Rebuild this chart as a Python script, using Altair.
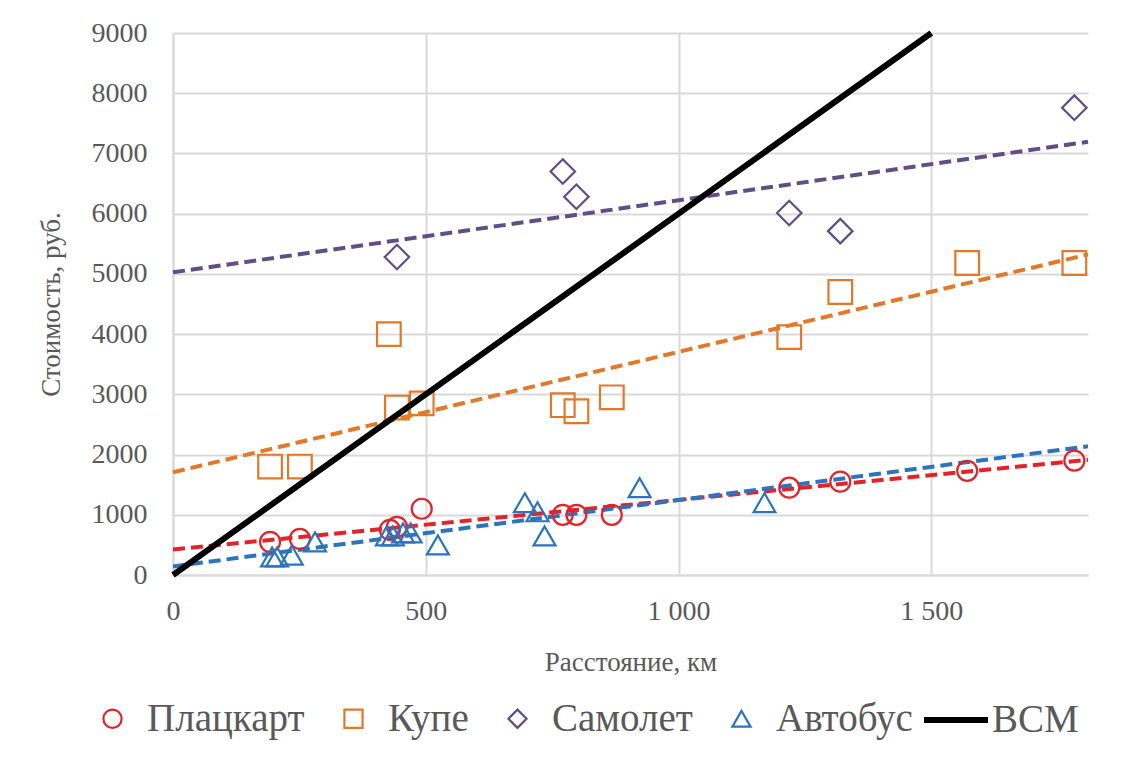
import altair as alt
import pandas as pd

# Distance (km) and fare (rub.) per transport type
plac_km = [192, 251, 429, 443, 492, 771, 798, 868, 1219, 1320, 1571, 1783]
plac_rub = [550, 600, 750, 800, 1100, 1000, 1000, 1000, 1450, 1550, 1730, 1900]

kupe_km = [192, 251, 427, 443, 492, 771, 798, 868, 1219, 1320, 1571, 1783]
kupe_rub = [1800, 1800, 4000, 2780, 2850, 2820, 2720, 2950, 3950, 4700, 5180, 5180]

avia_km = [443, 771, 798, 1219, 1320, 1783]
avia_rub = [5280, 6700, 6280, 6010, 5710, 7760]

bus_km = [196, 206, 235, 281, 423, 435, 455, 470, 524, 696, 721, 735, 923, 1170]
bus_rub = [300, 300, 330, 550, 650, 650, 700, 700, 500, 1200, 1050, 650, 1450, 1200]

# High-speed rail (ВСМ) fare line
vsm_km = [0, 1500]
vsm_rub = [0, 9000]

series_names = ["Плацкарт", "Купе", "Самолет", "Автобус"]
series_colors = ["#E3232A", "#E2782A", "#5E4F86", "#2C74BE"]
series_shapes = ["circle", "square", "diamond", "triangle-up"]
marker_sizes = [400, 560, 600, 480]

x_ticks = [0, 500, 1000, 1500]
y_ticks = list(range(0, 9001, 1000))

rows = []
for name, xs, ys in [("Плацкарт", plac_km, plac_rub), ("Купе", kupe_km, kupe_rub),
                     ("Самолет", avia_km, avia_rub), ("Автобус", bus_km, bus_rub)]:
    rows += [{"Тип": name, "x": a, "y": b} for a, b in zip(xs, ys)]
points = pd.DataFrame(rows)
vsm = pd.DataFrame({"Линия": "ВСМ", "x": vsm_km, "y": vsm_rub})

FONT = "Liberation Serif"
GREY = "#595959"

x_enc = alt.X("x:Q", scale=alt.Scale(domain=[0, 1810], nice=False, zero=False),
              axis=alt.Axis(values=x_ticks, title="Расстояние, км",
                            labelExpr="replace(format(datum.value, ','), ',', ' ')"))
y_enc = alt.Y("y:Q", scale=alt.Scale(domain=[0, 9000], nice=False),
              axis=alt.Axis(values=y_ticks, format="d", title="Стоимость, руб."))

color_scale = alt.Scale(domain=series_names, range=series_colors)
shape_scale = alt.Scale(domain=series_names, range=series_shapes)
series_legend = alt.Legend(title=None, orient="none", direction="horizontal",
                           legendX=-80, legendY=666, symbolSize=330,
                           labelOffset=15, columnPadding=29)

# Dashed linear trend for each transport type
trend = alt.Chart(points).transform_regression(
    "x", "y", groupby=["Тип"], extent=[0, 1810], method="linear"
).mark_line(strokeDash=[12, 6], strokeWidth=4).encode(
    x=x_enc, y=y_enc,
    color=alt.Color("Тип:N", scale=color_scale, legend=series_legend),
)

# Hollow markers, one layer per transport type
marker_layers = []
for name, size in zip(series_names, marker_sizes):
    marker_layers.append(
        alt.Chart(points).transform_filter(alt.datum["Тип"] == name)
        .mark_point(filled=False, opacity=1, strokeWidth=2.2, size=size)
        .encode(
            x="x:Q", y="y:Q",
            color=alt.Color("Тип:N", scale=color_scale, legend=series_legend),
            shape=alt.Shape("Тип:N", scale=shape_scale, legend=series_legend),
        )
    )

vsm_line = alt.Chart(vsm).mark_line(strokeWidth=6).encode(
    x="x:Q", y="y:Q",
    stroke=alt.Stroke("Линия:N", scale=alt.Scale(domain=["ВСМ"], range=["#000000"]),
                      legend=alt.Legend(title=None, orient="none", legendX=748, legendY=652,
                                        symbolType="stroke", symbolSize=4096,
                                        symbolStrokeWidth=6, labelOffset=1)),
)

chart = alt.layer(trend, *marker_layers, vsm_line).properties(
    width=915, height=542,
    background="white",
    autosize=alt.AutoSizeParams(type="none"),
    padding={"left": 173, "top": 33, "right": 45, "bottom": 182},
).configure_view(stroke=None).configure_axis(
    grid=True, gridColor="#D9D9D9", gridWidth=2,
    domainColor="#D9D9D9", domainWidth=2, ticks=False,
    labelFont=FONT, labelFontSize=28, labelColor=GREY,
    titleFont=FONT, titleFontSize=27, titleColor=GREY, titleFontWeight="normal",
).configure_axisX(labelPadding=22, titlePadding=24, labelFlush=False, domain=True
).configure_axisY(labelPadding=26, titlePadding=26, domain=True
).configure_legend(
    labelFont=FONT, labelFontSize=39, labelColor=GREY,
    symbolStrokeWidth=2.2, symbolFillColor="transparent",
    labelLimit=400, padding=0,
)

chart.save("out.html", embed_options={"renderer": "svg", "actions": False})
